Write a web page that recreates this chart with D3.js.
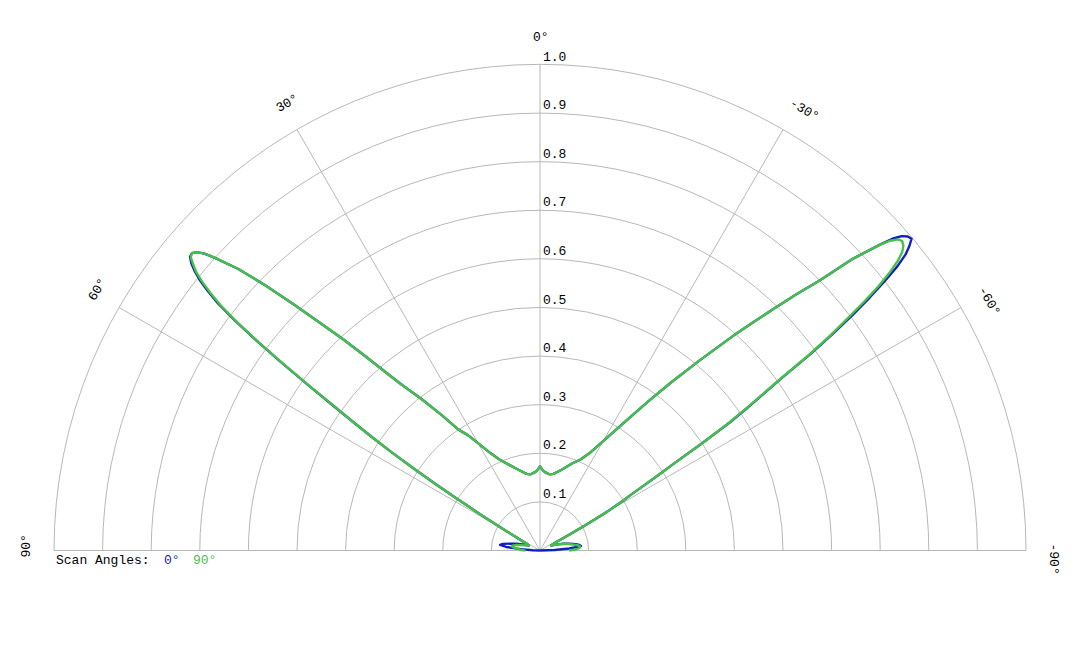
<!DOCTYPE html>
<html>
<head>
<meta charset="utf-8">
<script src="https://cdn.jsdelivr.net/npm/d3@7"></script>
<style>
  body { margin: 0; background: #fff; }
  text { font-family: "Courier New", "Liberation Mono", monospace; font-size: 13px; }
</style>
</head>
<body>
<svg id="chart" width="1080" height="648"></svg>
<script>
// scan angle (deg, + = left of broadside)
var angles = [-90, -88, -86, -84, -82, -80, -77, -74, -70, -66, -63, -62, -61, -60, -59, -58.5, -58, -57.5, -57, -56.5,
  -56, -55.5, -55, -54.5, -54, -53.5, -53, -52.5, -52, -51.5, -51, -50.5, -50, -49.5, -49, -48.5, -48, -47, -46, -45,
  -44, -43, -42, -40, -38, -36, -34, -32, -30, -27, -24, -20, -15, -10, -7, -4, -2, 0, 2, 4,
  7, 10, 15, 20, 24, 27, 30, 32, 34, 36, 38, 40, 42, 43, 44, 45, 46, 47, 48, 48.5,
  49, 49.5, 50, 50.5, 51, 51.5, 52, 52.5, 53, 53.5, 54, 54.5, 55, 55.5, 56, 56.5, 57, 57.5, 58, 58.5,
  59, 60, 61, 62, 63, 66, 70, 74, 77, 80, 82, 84, 86, 88, 90];

var scan0 = [0.00, 0.03, 0.06, 0.085, 0.082, 0.075, 0.062, 0.05, 0.035, 0.025, 0.035, 0.06, 0.10, 0.16, 0.20, 0.22, 0.25, 0.29, 0.33, 0.40,
  0.47, 0.515, 0.56, 0.61, 0.69, 0.75, 0.805, 0.855, 0.90, 0.94, 0.968, 0.985, 0.998, 0.995, 0.986, 0.968, 0.94, 0.88, 0.80, 0.745,
  0.69, 0.64, 0.595, 0.51, 0.44, 0.38, 0.33, 0.29, 0.26, 0.225, 0.205, 0.19, 0.172, 0.16, 0.158, 0.161, 0.165, 0.173, 0.165, 0.161,
  0.158, 0.16, 0.172, 0.188, 0.205, 0.225, 0.255, 0.28, 0.30, 0.345, 0.395, 0.45, 0.54, 0.595, 0.65, 0.715, 0.785, 0.85, 0.90, 0.922,
  0.936, 0.942, 0.94, 0.93, 0.915, 0.895, 0.868, 0.835, 0.785, 0.725, 0.655, 0.585, 0.52, 0.465, 0.415, 0.365, 0.31, 0.255, 0.205, 0.165,
  0.13, 0.085, 0.055, 0.04, 0.03, 0.025, 0.035, 0.05, 0.063, 0.078, 0.083, 0.07, 0.04, 0.015, 0.00];

var scan90 = [0.06, 0.075, 0.082, 0.083, 0.078, 0.07, 0.06, 0.05, 0.035, 0.025, 0.035, 0.06, 0.10, 0.16, 0.20, 0.22, 0.25, 0.29, 0.33, 0.40,
  0.465, 0.51, 0.555, 0.605, 0.68, 0.74, 0.79, 0.84, 0.885, 0.92, 0.948, 0.966, 0.976, 0.98, 0.976, 0.962, 0.94, 0.88, 0.80, 0.745,
  0.69, 0.64, 0.595, 0.51, 0.44, 0.38, 0.33, 0.29, 0.26, 0.225, 0.205, 0.19, 0.172, 0.16, 0.158, 0.161, 0.165, 0.173, 0.165, 0.161,
  0.158, 0.16, 0.172, 0.188, 0.205, 0.225, 0.255, 0.28, 0.30, 0.345, 0.395, 0.45, 0.54, 0.595, 0.65, 0.715, 0.785, 0.85, 0.90, 0.922,
  0.936, 0.942, 0.938, 0.925, 0.91, 0.888, 0.86, 0.828, 0.78, 0.72, 0.65, 0.58, 0.515, 0.465, 0.415, 0.365, 0.31, 0.255, 0.205, 0.165,
  0.13, 0.085, 0.055, 0.04, 0.03, 0.025, 0.03, 0.04, 0.05, 0.058, 0.058, 0.052, 0.045, 0.04, 0.03];

var ringTicks = [0.1, 0.2, 0.3, 0.4, 0.5, 0.6, 0.7, 0.8, 0.9, 1.0];
var ringLabels = ["0.1", "0.2", "0.3", "0.4", "0.5", "0.6", "0.7", "0.8", "0.9", "1.0"];
var spokeTicks = [90, 60, 30, 0, -30, -60, -90];
var spokeLabels = ["90°", "60°", "30°", "0°", "-30°", "-60°", "-90°"];
var seriesNames = ["0°", "90°"];
var seriesColors = ["#1220c0", "#46c046"];

var cx = 540, cy = 550.5, R = 486;

var svg = d3.select("#chart");
var g = svg.append("g").attr("transform", "translate(" + cx + "," + cy + ")");

var r = d3.scaleLinear().domain([0, 1]).range([0, R]);
// + angle goes to the left (counter-clockwise)
var a = d3.scaleLinear().domain([-90, 90]).range([Math.PI / 2, -Math.PI / 2]);

// rings
g.selectAll("path.ring").data(ringTicks).enter().append("path")
  .attr("class", "ring")
  .attr("d", function (d) {
    var p = d3.path();
    p.arc(0, 0, r(d), Math.PI, 2 * Math.PI);
    return p.toString();
  })
  .attr("fill", "none").attr("stroke", "#b8b8b8").attr("stroke-width", 1);

// spokes
g.selectAll("line.spoke").data(spokeTicks).enter().append("line")
  .attr("class", "spoke")
  .attr("x1", 0).attr("y1", 0)
  .attr("x2", function (d) { return R * Math.sin(a(d)); })
  .attr("y2", function (d) { return -R * Math.cos(a(d)); })
  .attr("stroke", "#b8b8b8").attr("stroke-width", 1);

// ring labels
g.selectAll("text.rlab").data(ringTicks).enter().append("text")
  .attr("class", "rlab")
  .attr("x", 3)
  .attr("y", function (d) { return -r(d) - 4; })
  .text(function (d, i) { return ringLabels[i]; });

// angle labels
g.selectAll("text.alab").data(spokeTicks).enter().append("text")
  .attr("class", "alab")
  .attr("transform", function (d) {
    var x = 510 * Math.sin(a(d)), y = -510 * Math.cos(a(d));
    return "translate(" + x + "," + y + ") rotate(" + (-d) + ")";
  })
  .attr("x", -7)
  .text(function (d, i) { return spokeLabels[i]; });

// pattern lines
var line = d3.lineRadial()
  .angle(function (d) { return a(d[0]); })
  .radius(function (d) { return r(d[1]); });

[scan0, scan90].forEach(function (vals, k) {
  g.append("path")
    .datum(d3.zip(angles, vals))
    .attr("d", line)
    .attr("fill", "none")
    .attr("stroke", seriesColors[k])
    .attr("stroke-width", 2.4)
    .attr("stroke-linejoin", "round");
});

// legend
svg.append("text").attr("x", 56).attr("y", 564).attr("fill", "#000").text("Scan Angles:");
var legX = [164, 193];
seriesNames.forEach(function (n, i) {
  svg.append("text").attr("x", legX[i]).attr("y", 564)
    .attr("fill", seriesColors[i]).text(n);
});
</script>
</body>
</html>
